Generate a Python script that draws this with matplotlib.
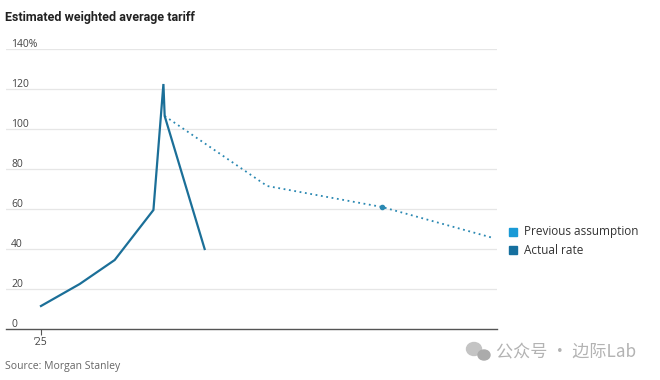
import matplotlib
matplotlib.use("Agg")
import matplotlib.pyplot as plt
import matplotlib.dates as mdates
import matplotlib.transforms as mtransforms
from matplotlib.patches import Ellipse
from datetime import datetime

# ---- data ----
actual_dates = ["2025-01-01", "2025-02-01", "2025-03-01", "2025-04-01",
                "2025-04-09", "2025-04-10", "2025-05-12"]
actual_values = [11.5, 22.5, 34.5, 59.5, 122.5, 106.5, 40.0]

previous_dates = ["2025-04-10", "2025-07-01", "2025-10-01", "2025-12-29"]
previous_values = [106.5, 71.5, 61.0, 45.5]

y_ticks = [0, 20, 40, 60, 80, 100, 120, 140]
y_tick_labels = ["0", "20", "40", "60", "80", "100", "120", "140%"]
x_tick_dates = ["2025-01-01"]
x_tick_labels = ["\u201925"]

title = "Estimated weighted average tariff"
source = "Source: Morgan Stanley"
legend_labels = ["Previous assumption", "Actual rate"]
watermark = "公众号 · 边际Lab"

# ---- style ----
actual_color = "#1b6f98"
previous_color = "#2a88b2"
legend_prev_color = "#1a9ad6"
legend_actual_color = "#16709f"
grid_color = "#e6e6e6"
text_color = "#444444"

plt.rcParams["font.family"] = ["Open Sans", "DejaVu Sans"]

def d(s):
    return mdates.date2num(datetime.strptime(s, "%Y-%m-%d"))

fig = plt.figure(figsize=(6.6, 3.8), dpi=100)
W, H = 660, 380
ax = fig.add_axes([6 / W, (H - 329) / H, (497 - 6) / W, (329 - 49) / H])

ax.set_xlim(d("2024-12-04"), d("2026-01-01"))
ax.set_ylim(0, 140)

for s in ["top", "right", "left"]:
    ax.spines[s].set_visible(False)
ax.spines["bottom"].set_color("#555555")
ax.spines["bottom"].set_linewidth(1.0)

for v in y_ticks[1:]:
    ax.axhline(v, color=grid_color, lw=0.9, zorder=0)

ax.set_yticks([])
trans = mtransforms.blended_transform_factory(ax.transAxes, ax.transData)
for v, lab in zip(y_ticks, y_tick_labels):
    ax.text(5 / (497 - 6), v + 2.4, lab, transform=trans, ha="left", va="center",
            fontsize=7.5, color=text_color)

ax.set_xticks([d(s) for s in x_tick_dates])
ax.set_xticklabels(x_tick_labels, fontsize=7.5, color=text_color)
ax.tick_params(axis="x", length=4, width=0.8, color="#555555", pad=2)

ax.plot([d(s) for s in previous_dates], previous_values, color=previous_color,
        lw=1.3, linestyle=(0, (1, 2)), zorder=2)
ax.plot([d(previous_dates[2])], [previous_values[2]], marker="o", ms=3,
        color=previous_color, zorder=3)
ax.plot([d(s) for s in actual_dates], actual_values, color=actual_color,
        lw=1.6, zorder=4, solid_joinstyle="miter")

# title & source
fig.text(5 / W, 1 - 17 / H, title, fontsize=9.0, fontweight="bold",
         color="#222222", ha="left", va="center",
         family=["Liberation Sans Narrow", "Roboto", "DejaVu Sans"])
fig.text(5 / W, 1 - 367 / H, source, fontsize=7.5, color="#666666",
         ha="left", va="center")

# legend
for i, (lab, col) in enumerate(zip(legend_labels, [legend_prev_color, legend_actual_color])):
    yy = 232 + 18 * i
    fig.patches.append(plt.Rectangle((509 / W, 1 - (yy + 4) / H), 8 / W, 8 / H,
                                     transform=fig.transFigure, color=col))
    fig.text(524 / W, 1 - yy / H, lab, fontsize=8.5, color="#333333",
             ha="left", va="center")

# watermark
fig.text(496 / W, 1 - 352 / H, watermark, fontsize=12.3, color="#b3b3b3",
         ha="left", va="center",
         family=["Noto Sans CJK SC", "DejaVu Sans"])
fig.patches.append(Ellipse((474 / W, 1 - 349 / H), 15 / W, 13 / H,
                           transform=fig.transFigure, color="#c4c4c4"))
fig.patches.append(Ellipse((484 / W, 1 - 355 / H), 12 / W, 10 / H,
                           transform=fig.transFigure, color="#ababab"))

fig.savefig("out.png", dpi=100)
